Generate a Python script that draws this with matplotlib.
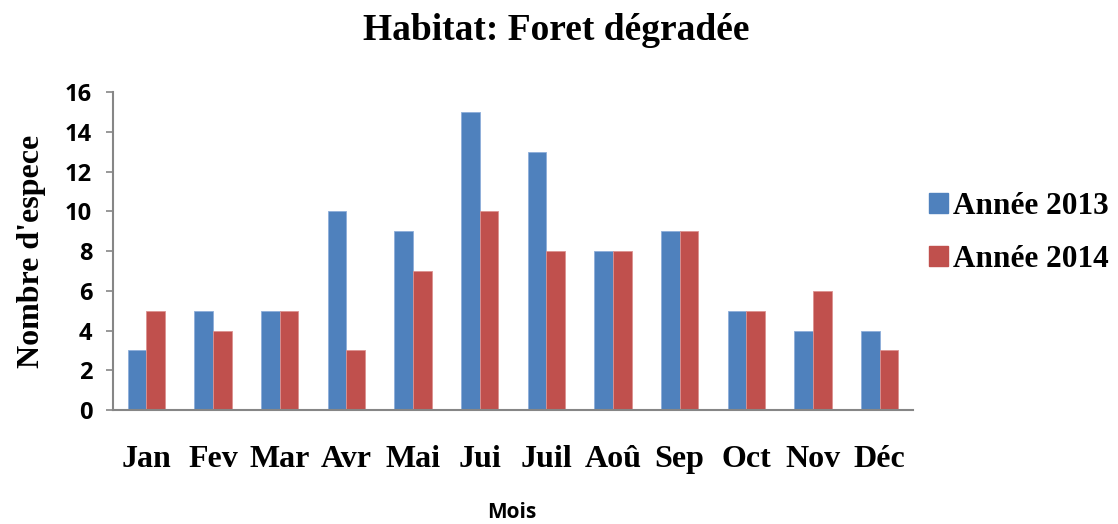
import matplotlib

matplotlib.use("Agg")
import matplotlib.pyplot as plt
import matplotlib.patches as mpatches
import numpy as np

months = ["Jan", "Fev", "Mar", "Avr", "Mai", "Jui", "Juil", "Aoû", "Sep", "Oct", "Nov", "Déc"]
annee_2013 = [3, 5, 5, 10, 9, 15, 13, 8, 9, 5, 4, 4]
annee_2014 = [5, 4, 5, 3, 7, 10, 8, 8, 9, 5, 6, 3]
series_labels = ["Année 2013", "Année 2014"]
y_ticks = [0, 2, 4, 6, 8, 10, 12, 14, 16]

BLUE = "#4F81BD"
RED = "#C0504D"
AXIS = "#868686"
SERIF = "Liberation Serif"
SANS = "Open Sans"

fig = plt.figure(figsize=(11.18, 5.24), dpi=100)
ax = fig.add_axes([113 / 1118, 114 / 524, 800 / 1118, 318 / 524])

x = np.arange(len(months))
w = 0.28
ax.bar(x - w / 2, annee_2013, width=w, color=BLUE, edgecolor="#8EAEDA", linewidth=0.6, zorder=2)
ax.bar(x + w / 2, annee_2014, width=w, color=RED, edgecolor="#DC9290", linewidth=0.6, zorder=2)

ax.set_xlim(-0.5, len(months) - 0.5)
ax.set_ylim(0, 16)
ax.set_yticks(y_ticks)
ax.set_yticklabels([str(t) for t in y_ticks], fontfamily=SANS, fontweight="bold", fontsize=17)
ax.set_xticks(x)
ax.set_xticklabels(months, fontfamily=SERIF, fontweight="bold", fontsize=23)
ax.tick_params(axis="x", length=0, pad=25)
ax.tick_params(axis="y", length=5, width=1.2, color=AXIS, direction="out", pad=10)

for side in ["top", "right"]:
    ax.spines[side].set_visible(False)
for side in ["left", "bottom"]:
    ax.spines[side].set_color(AXIS)
    ax.spines[side].set_linewidth(1.5)

ax.set_ylabel("Nombre d'espece", fontfamily=SERIF, fontweight="bold", fontsize=23, labelpad=14)
fig.text(512 / 1118, 1 - 513 / 524, "Mois", ha="center", va="center",
         fontfamily=SANS, fontweight="bold", fontsize=15)
fig.text(556 / 1118, 1 - 30 / 524, "Habitat: Foret dégradée", ha="center", va="center",
         fontfamily=SERIF, fontweight="bold", fontsize=27)

handles = [mpatches.Patch(color=BLUE, label=series_labels[0]),
           mpatches.Patch(color=RED, label=series_labels[1])]
leg = fig.legend(handles=handles, loc="center left", bbox_to_anchor=(901 / 1118, 1 - 233 / 524),
                 frameon=False, prop={"family": SERIF, "weight": "bold", "size": 22.5},
                 handlelength=0.6, handleheight=0.6, handletextpad=0.15, labelspacing=0.78)

fig.savefig("out.png", dpi=100)
